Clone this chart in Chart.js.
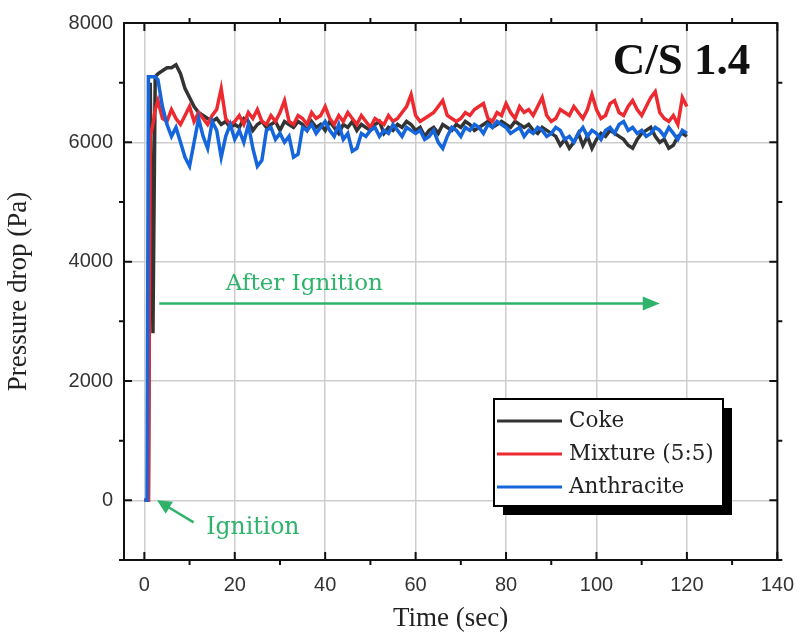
<!DOCTYPE html>
<html>
<head>
<meta charset="utf-8">
<title>Pressure drop C/S 1.4</title>
<script src="https://cdn.jsdelivr.net/npm/chart.js@4.4.1/dist/chart.umd.min.js"></script>
<style>
  body { margin: 0; background: #fff; }
  #wrap { width: 807px; height: 636px; }
</style>
</head>
<body>
<div id="wrap"><canvas id="dpChart" width="807" height="636"></canvas></div>
<script>
// time axis (sec): fine steps over the ignition jump, then one reading per second
const times = [0, 0.6, 0.9, 1.3, 1.9, 2.4,
  3, 4, 5, 6, 7, 8, 9, 10, 11, 12, 13, 14, 15, 16, 17, 18, 19, 20,
  21, 22, 23, 24, 25, 26, 27, 28, 29, 30, 31, 32, 33, 34, 35, 36, 37, 38, 39, 40,
  41, 42, 43, 44, 45, 46, 47, 48, 49, 50, 51, 52, 53, 54, 55, 56, 57, 58, 59, 60,
  61, 62, 63, 64, 65, 66, 67, 68, 69, 70, 71, 72, 73, 74, 75, 76, 77, 78, 79, 80,
  81, 82, 83, 84, 85, 86, 87, 88, 89, 90, 91, 92, 93, 94, 95, 96, 97, 98, 99, 100,
  101, 102, 103, 104, 105, 106, 107, 108, 109, 110, 111, 112, 113, 114, 115, 116, 117, 118, 119, 120];

// pressure drop (Pa)
const coke = [0, 0, 0, 7000, 2800, 7100,
  7150, 7200, 7250, 7250, 7300, 7150, 6900, 6750, 6600, 6500, 6450, 6400, 6350, 6400, 6300, 6350, 6250, 6300,
  6250, 6400, 6350, 6200, 6300, 6350, 6250, 6300, 6350, 6200, 6350, 6300, 6250, 6350, 6300, 6200, 6350, 6250, 6300, 6200,
  6350, 6250, 6150, 6300, 6250, 6350, 6200, 6300, 6250, 6200, 6300, 6350, 6150, 6250, 6200, 6300, 6250, 6350, 6300, 6200,
  6250, 6100, 6200, 6250, 6150, 6300, 6250, 6200, 6300, 6250, 6350, 6300, 6200, 6250, 6300, 6350, 6250, 6300, 6350, 6300,
  6250, 6350, 6300, 6250, 6300, 6200, 6150, 6250, 6200, 6150, 6100, 5950, 6050, 5900, 6000, 6150, 5950, 6100, 5900, 6050,
  6150, 6100, 6200, 6150, 6100, 6050, 5950, 5900, 6050, 6150, 6200, 6250, 6100, 6000, 6050, 5900, 5950, 6100, 6150, 6100];

const mixture = [0, 0, 0, 6100, 6300, 6550,
  6700, 6400, 6350, 6550, 6400, 6300, 6450, 6600, 6350, 6500, 6400, 6300, 6450, 6550, 6900, 6400, 6300, 6350,
  6450, 6300, 6500, 6400, 6550, 6350, 6300, 6450, 6350, 6500, 6700, 6350, 6300, 6450, 6400, 6300, 6500, 6400, 6450, 6600,
  6400, 6300, 6450, 6350, 6500, 6400, 6300, 6450, 6350, 6250, 6400, 6350, 6300, 6450, 6350, 6400, 6500, 6600, 6800, 6450,
  6350, 6400, 6450, 6500, 6600, 6700, 6450, 6400, 6350, 6400, 6500, 6450, 6550, 6600, 6650, 6400, 6350, 6500, 6450, 6650,
  6500, 6400, 6600, 6500, 6550, 6450, 6600, 6750, 6450, 6350, 6400, 6550, 6500, 6450, 6600, 6500, 6400, 6550, 6800, 6550,
  6400, 6450, 6650, 6700, 6500, 6450, 6600, 6700, 6550, 6450, 6600, 6750, 6850, 6500, 6400, 6350, 6450, 6300, 6750, 6600];

const anthracite = [0, 0, 7100, 7100, 7100, 7100,
  7050, 6600, 6300, 6100, 6250, 6000, 5750, 5600, 6000, 6400, 6100, 5900, 6350, 6200, 5750, 6100, 6300, 6050,
  6200, 6000, 6300, 5900, 5600, 5700, 6200, 6250, 6050, 6150, 6000, 6100, 5750, 5800, 6250, 6200, 6300, 6150, 6250, 6350,
  6200, 6100, 6300, 6050, 6150, 5850, 5900, 6150, 6100, 6200, 6250, 6100, 6200, 6150, 6300, 6200, 6100, 6250, 6200, 6150,
  6200, 6050, 6100, 6200, 6000, 5900, 6100, 6250, 6200, 6100, 6250, 6200, 6300, 6250, 6150, 6300, 6250, 6350, 6300, 6250,
  6150, 6200, 6250, 6100, 6200, 6150, 6250, 6200, 6100, 6150, 6250, 6200, 6050, 6100, 6000, 6150, 6250, 6100, 6200, 6150,
  6050, 6200, 6250, 6150, 6300, 6350, 6200, 6250, 6150, 6200, 6100, 6150, 6250, 6200, 6100, 6250, 6150, 6050, 6200, 6150];

const seriesNames = ['Coke', 'Mixture (5:5)', 'Anthracite'];
const seriesColors = ['#333333', '#ec2a2f', '#1565dc'];

const xTicks = [0, 20, 40, 60, 80, 100, 120, 140];
const yTicks = [0, 2000, 4000, 6000, 8000];
const xMinor = [10, 30, 50, 70, 90, 110, 130];
const yMinor = [-1000, 1000, 3000, 5000, 7000];

const green = '#2fb36b';
const serif = '"DejaVu Serif", "Liberation Serif", serif';

function toPoints(vals) {
  return vals.map((v, i) => ({ x: times[i], y: v }));
}

// frame, inward major ticks, outward minor ticks, legend box and notes
const decorations = {
  id: 'decorations',
  afterDatasetsDraw(chart) {
    const ctx = chart.ctx;
    const a = chart.chartArea;
    const xs = chart.scales.x, ys = chart.scales.y;
    ctx.save();

    ctx.strokeStyle = '#111';
    ctx.lineWidth = 2;
    ctx.strokeRect(a.left, a.top, a.right - a.left, a.bottom - a.top);

    ctx.beginPath();
    xTicks.forEach(v => {
      const px = xs.getPixelForValue(v);
      ctx.moveTo(px, a.bottom); ctx.lineTo(px, a.bottom - 8);
      ctx.moveTo(px, a.top); ctx.lineTo(px, a.top + 8);
    });
    xMinor.forEach(v => {
      const px = xs.getPixelForValue(v);
      ctx.moveTo(px, a.bottom); ctx.lineTo(px, a.bottom + 5);
      ctx.moveTo(px, a.top); ctx.lineTo(px, a.top - 5);
    });
    yTicks.forEach(v => {
      const py = ys.getPixelForValue(v);
      ctx.moveTo(a.left, py); ctx.lineTo(a.left + 8, py);
      ctx.moveTo(a.right, py); ctx.lineTo(a.right - 8, py);
    });
    yMinor.forEach(v => {
      const py = ys.getPixelForValue(v);
      ctx.moveTo(a.left, py); ctx.lineTo(a.left - 5, py);
      ctx.moveTo(a.right, py); ctx.lineTo(a.right + 5, py);
    });
    ctx.stroke();

    // legend with drop shadow
    const lx = 494, ly = 399, lw = 229, lh = 107;
    ctx.fillStyle = '#000';
    ctx.fillRect(lx + 9, ly + 9, lw, lh);
    ctx.fillStyle = '#fff';
    ctx.fillRect(lx, ly, lw, lh);
    ctx.lineWidth = 2;
    ctx.strokeStyle = '#000';
    ctx.strokeRect(lx, ly, lw, lh);
    ctx.font = '21.5px ' + serif;
    ctx.textBaseline = 'middle';
    seriesNames.forEach((name, i) => {
      const ry = ly + 22 + i * 33;
      ctx.strokeStyle = seriesColors[i];
      ctx.lineWidth = 3;
      ctx.beginPath();
      ctx.moveTo(lx + 3, ry); ctx.lineTo(lx + 68, ry);
      ctx.stroke();
      ctx.fillStyle = '#222';
      ctx.fillText(name, lx + 75, ry);
    });

    // panel label
    ctx.fillStyle = '#111';
    ctx.font = 'bold 45px "Liberation Serif", serif';
    ctx.textAlign = 'right';
    ctx.fillText('C/S 1.4', xs.getPixelForValue(134), ys.getPixelForValue(7340));

    // after-ignition arrow
    ctx.strokeStyle = green;
    ctx.fillStyle = green;
    ctx.lineWidth = 2.5;
    const ay = ys.getPixelForValue(3300);
    const ax0 = xs.getPixelForValue(3.3), ax1 = xs.getPixelForValue(114);
    ctx.beginPath();
    ctx.moveTo(ax0, ay); ctx.lineTo(ax1 - 14, ay);
    ctx.stroke();
    ctx.beginPath();
    ctx.moveTo(ax1, ay); ctx.lineTo(ax1 - 17, ay - 7); ctx.lineTo(ax1 - 17, ay + 7);
    ctx.closePath(); ctx.fill();
    ctx.textAlign = 'left';
    ctx.font = '23px ' + serif;
    ctx.fillText('After Ignition', xs.getPixelForValue(18), ys.getPixelForValue(3620));

    // ignition arrow
    const tx = xs.getPixelForValue(2.8), ty = ys.getPixelForValue(0);
    const sx = xs.getPixelForValue(10.9), sy = ys.getPixelForValue(-370);
    const ang = Math.atan2(sy - ty, sx - tx);
    ctx.beginPath();
    ctx.moveTo(sx, sy); ctx.lineTo(tx + Math.cos(ang) * 12, ty + Math.sin(ang) * 12);
    ctx.stroke();
    ctx.beginPath();
    ctx.moveTo(tx, ty);
    ctx.lineTo(tx + Math.cos(ang + 0.45) * 16, ty + Math.sin(ang + 0.45) * 16);
    ctx.lineTo(tx + Math.cos(ang - 0.45) * 16, ty + Math.sin(ang - 0.45) * 16);
    ctx.closePath(); ctx.fill();
    ctx.font = '23.5px ' + serif;
    ctx.fillText('Ignition', xs.getPixelForValue(13.7), ys.getPixelForValue(-470));

    ctx.restore();
  }
};

const ctx = document.getElementById('dpChart').getContext('2d');

new Chart(ctx, {
  type: 'line',
  data: {
    datasets: [
      { label: seriesNames[0], data: toPoints(coke), borderColor: seriesColors[0], order: 3 },
      { label: seriesNames[1], data: toPoints(mixture), borderColor: seriesColors[1], order: 2 },
      { label: seriesNames[2], data: toPoints(anthracite), borderColor: seriesColors[2], order: 1 }
    ]
  },
  options: {
    responsive: false,
    animation: false,
    datasets: {
      line: { borderWidth: 3.5, pointRadius: 0, tension: 0, fill: false }
    },
    layout: { padding: { top: 21, right: 20, left: 0, bottom: 0 } },
    scales: {
      x: {
        type: 'linear',
        min: -4.5,
        max: 140,
        afterBuildTicks: s => { s.ticks = xTicks.map(v => ({ value: v })); },
        afterFit: s => { s.height = 76; },
        grid: { color: '#cdcdcd', lineWidth: 1.5, drawTicks: false },
        border: { display: false },
        ticks: { padding: 13, color: '#333', font: { family: '"Liberation Sans", Arial', size: 20 },
                 callback: v => String(v) },
        title: { display: true, text: 'Time (sec)', color: '#222', font: { family: '"Liberation Serif", serif', size: 27 }, padding: 1 }
      },
      y: {
        type: 'linear',
        min: -1000,
        max: 8000,
        afterBuildTicks: s => { s.ticks = yTicks.map(v => ({ value: v })); },
        afterFit: s => { s.width = 124; },
        grid: { color: '#cdcdcd', lineWidth: 1.5, drawTicks: false },
        border: { display: false },
        ticks: { padding: 11, color: '#333', font: { family: '"Liberation Sans", Arial', size: 20 },
                 callback: v => String(v) },
        title: { display: true, text: 'Pressure drop (Pa)', color: '#222', font: { family: '"Liberation Serif", serif', size: 27 }, padding: 3 }
      }
    },
    plugins: {
      legend: { display: false },
      tooltip: { enabled: false }
    }
  },
  plugins: [decorations]
});
</script>
</body>
</html>
